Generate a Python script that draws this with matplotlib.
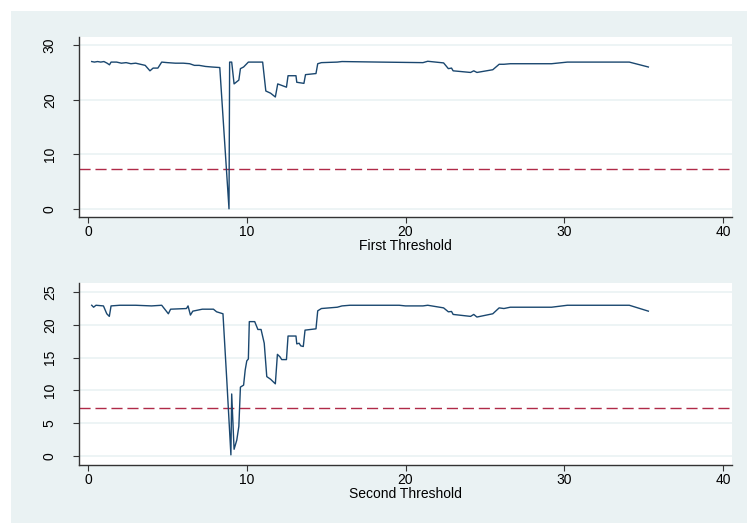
import matplotlib
matplotlib.use('Agg')
import matplotlib.pyplot as plt
from matplotlib.patches import Rectangle

plt.rcParams['font.family'] = ['Liberation Sans', 'DejaVu Sans']

# First threshold series
first_x = [0.23, 0.4, 0.6, 0.8, 1.0, 1.2, 1.35, 1.45, 1.8, 2.1, 2.4, 2.7, 3.0, 3.3, 3.6,
           3.9, 4.1, 4.4, 4.64, 5.0, 5.5, 6.0, 6.4, 6.7, 7.0, 7.4, 7.8, 8.3, 8.88, 8.92,
           9.05, 9.2, 9.5, 9.6, 9.8, 10.1, 11.0, 11.2, 11.5, 11.8, 11.95, 12.5, 12.6,
           13.1, 13.15, 13.6, 13.7, 14.36, 14.47, 14.7, 15.7, 16.0, 18.4, 21.1, 21.4,
           22.4, 22.7, 22.9, 23.0, 24.1, 24.3, 24.5, 25.5, 25.9, 26.2, 26.6, 29.2, 30.2,
           34.1, 35.3]
first_y = [27.0, 26.9, 27.0, 26.9, 27.0, 26.7, 26.4, 26.9, 26.9, 26.7, 26.8, 26.6, 26.7,
           26.5, 26.3, 25.3, 25.8, 25.8, 26.9, 26.8, 26.7, 26.7, 26.6, 26.3, 26.3, 26.1,
           26.0, 25.9, 0.0, 26.9, 26.9, 22.9, 23.6, 25.7, 26.0, 26.9, 26.9, 21.6, 21.2,
           20.5, 22.9, 22.3, 24.4, 24.4, 23.2, 23.0, 24.6, 24.8, 26.6, 26.8, 26.9, 27.0,
           26.9, 26.8, 27.05, 26.75, 25.7, 25.8, 25.3, 25.0, 25.3, 25.0, 25.5, 26.5, 26.5,
           26.6, 26.6, 26.9, 26.9, 26.0]

# Second threshold series
second_x = [0.23, 0.35, 0.5, 0.97, 1.18, 1.34, 1.45, 2.0, 3.0, 4.0, 4.64, 5.06, 5.2, 6.2,
            6.3, 6.45, 6.6, 7.2, 7.9, 8.1, 8.5, 8.74, 9.0, 9.05, 9.2, 9.37, 9.5, 9.6, 9.8,
            9.9, 10.0, 10.1, 10.16, 10.5, 10.7, 10.9, 11.1, 11.26, 11.5, 11.8, 11.93, 12.1,
            12.2, 12.5, 12.6, 13.1, 13.15, 13.3, 13.4, 13.56, 13.67, 14.36, 14.47, 14.7,
            15.7, 16.0, 16.5, 18.4, 19.6, 20.0, 21.1, 21.4, 22.4, 22.7, 22.9, 23.0, 24.1,
            24.3, 24.5, 25.5, 25.9, 26.2, 26.6, 29.2, 30.2, 34.1, 35.3]
second_y = [23.0, 22.7, 23.0, 22.9, 21.7, 21.3, 22.9, 23.0, 23.0, 22.9, 23.0, 21.7, 22.4,
            22.5, 22.9, 21.5, 22.1, 22.4, 22.4, 22.0, 21.7, 11.6, 0.15, 9.45, 1.0, 2.4, 4.5,
            10.5, 10.8, 13.1, 14.5, 14.8, 20.5, 20.5, 19.3, 19.3, 17.2, 12.1, 11.7, 11.0,
            15.5, 15.1, 14.7, 14.7, 18.3, 18.3, 17.1, 17.2, 16.8, 16.7, 19.2, 19.4, 22.15,
            22.5, 22.7, 22.9, 23.0, 23.0, 23.0, 22.9, 22.9, 23.0, 22.6, 22.0, 22.05, 21.6,
            21.3, 21.6, 21.2, 21.7, 22.6, 22.5, 22.7, 22.7, 23.0, 23.0, 22.1]

threshold = 7.3
x_ticks = [0, 10, 20, 30, 40]
first_yticks = [0, 10, 20, 30]
second_yticks = [0, 5, 10, 15, 20, 25]

line_col = '#1a476f'
ref_col = '#b02a48'
bg_col = '#eaf2f3'

fig = plt.figure(figsize=(7.47, 5.23), dpi=100)
fig.patch.set_facecolor('white')
# shaded graph region (Stata style), kept behind the axes
fig.patches.append(Rectangle((11 / 747, 0), 1 - 11 / 747, 1 - 11 / 523,
                             transform=fig.transFigure, facecolor=bg_col,
                             edgecolor='none', zorder=-10))

ax1 = fig.add_axes([79 / 747, 1 - 217 / 523, 653 / 747, 180 / 523])
ax2 = fig.add_axes([79 / 747, 1 - 465 / 523, 653 / 747, 182 / 523])

panels = [(ax1, first_x, first_y, first_yticks, (-1.5, 31.5), 'First Threshold'),
          (ax2, second_x, second_y, second_yticks, (-1.4, 26.4), 'Second Threshold')]

for ax, xs, ys, yt, ylim, lab in panels:
    ax.set_facecolor('white')
    ax.plot(xs, ys, color=line_col, lw=1.0, zorder=3)
    ax.axhline(threshold, color=ref_col, lw=1.0, dashes=(8, 3.5), zorder=2)

    ax.set_xlim(-0.57, 40.57)
    ax.set_ylim(*ylim)
    ax.set_xticks(x_ticks)
    ax.set_yticks(yt)
    ax.grid(axis='y', color=bg_col, lw=1.2)
    ax.set_axisbelow(True)

    for s in ['top', 'right']:
        ax.spines[s].set_visible(False)
    for s in ['left', 'bottom']:
        ax.spines[s].set_color('#333333')
        ax.spines[s].set_linewidth(1.0)

    ax.tick_params(axis='x', length=4, width=0.8, color='#333333', pad=2, labelsize=10)
    # y labels stand upright, as Stata draws them
    ax.tick_params(axis='y', length=4, width=0.8, color='#333333', pad=12, labelsize=10,
                   labelrotation=90)
    for t in ax.get_yticklabels():
        t.set_va('center')
    ax.set_xlabel(lab, fontsize=10, labelpad=0)

fig.savefig('out.png', dpi=100)
